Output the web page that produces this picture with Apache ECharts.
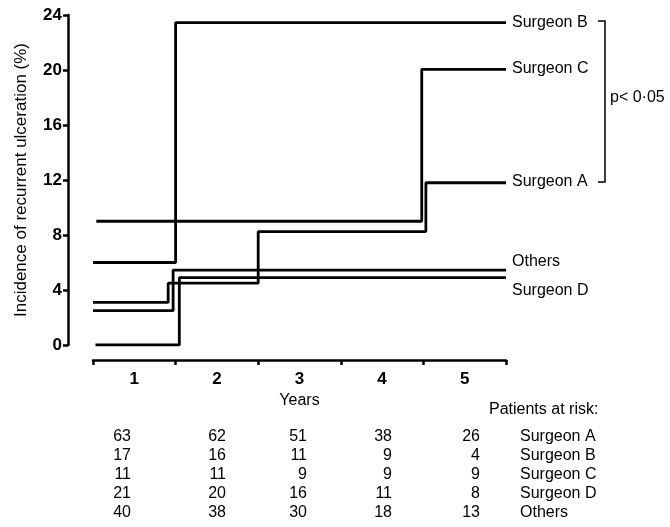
<!DOCTYPE html>
<html><head><meta charset="utf-8">
<script src="https://cdn.jsdelivr.net/npm/echarts@6/dist/echarts.min.js"></script>
<style>html,body{margin:0;padding:0;background:#fff}#c{width:670px;height:527px}</style>
</head><body><div id="c"></div>
<script>
// ---- data ----
const yearLabels = ['1', '2', '3', '4', '5'];
const yTickValues = [0, 4, 8, 12, 16, 20, 24];
// Step curves: [year, incidence %] at start and at each step
const surgeonA = [[0, 3.1], [0.91, 4.5], [2.0, 8.25], [4.03, 11.8], [5, 11.8]];
const surgeonB = [[0, 6.0], [1.0, 23.45], [5, 23.45]];
const surgeonC = [[0.04, 9.0], [3.98, 20.05], [5, 20.05]];
const surgeonD = [[0.03, 0], [1.045, 4.9], [5, 4.9]];
const others   = [[0, 2.5], [0.97, 5.45], [5, 5.45]];
const seriesNames = ['Surgeon A', 'Surgeon B', 'Surgeon C', 'Surgeon D', 'Others'];
// Patients at risk per year
const riskA = [63, 62, 51, 38, 26];
const riskB = [17, 16, 11, 9, 4];
const riskC = [11, 11, 9, 9, 9];
const riskD = [21, 20, 16, 11, 8];
const riskOthers = [40, 38, 30, 18, 13];
const pText = 'p< 0·05';

// ---- chart ----
const FONT = "'Liberation Sans', Arial, Helvetica, sans-serif";
const chart = echarts.init(document.getElementById('c'), null, {renderer: 'canvas'});
const curves = [surgeonA, surgeonB, surgeonC, surgeonD, others];
const labelOffsets = [[0, -1], [0, 0], [0, -1], [0, 13], [0, -8]];

const series = curves.map((d, i) => ({
  name: seriesNames[i],
  type: 'line',
  xAxisIndex: 0,
  step: 'end',
  data: d,
  symbol: 'none',
  lineStyle: {color: '#000', width: 2.8},
  endLabel: {
    show: true,
    formatter: '{a}',
    distance: 6,
    offset: labelOffsets[i],
    color: '#000',
    fontSize: 16,
    fontFamily: FONT
  },
  animation: false
}));

const riskRows = [riskA, riskB, riskC, riskD, riskOthers];
const colRight = [131, 226, 307, 392, 480];
const rowY = [437, 456, 475, 494, 513];
const graphics = [];
riskRows.forEach((row, r) => {
  row.forEach((v, c) => {
    graphics.push({type: 'text', x: colRight[c], y: rowY[r],
      style: {text: String(v), font: '16px ' + FONT, fill: '#000',
        align: 'right', verticalAlign: 'middle', textAlign: 'right', textVerticalAlign: 'middle'}});
  });
  graphics.push({type: 'text', x: 520, y: rowY[r],
    style: {text: seriesNames[r], font: '16px ' + FONT, fill: '#000',
      align: 'left', verticalAlign: 'middle', textAlign: 'left', textVerticalAlign: 'middle'}});
});
graphics.push({type: 'text', x: 489, y: 410,
  style: {text: 'Patients at risk:', font: '16px ' + FONT, fill: '#000',
    align: 'left', verticalAlign: 'middle', textAlign: 'left', textVerticalAlign: 'middle'}});
// bracket
graphics.push({type: 'polyline', shape: {points: [[598, 21], [605, 21], [605, 182], [598, 182]]},
  style: {stroke: '#000', lineWidth: 1.5, fill: null}});
graphics.push({type: 'text', x: 610, y: 98,
  style: {text: pText, font: '16px ' + FONT, fill: '#000',
    align: 'left', verticalAlign: 'middle', textAlign: 'left', textVerticalAlign: 'middle'}});

chart.setOption({
  animation: false,
  backgroundColor: '#fff',
  grid: {left: 93, right: 164, top: 15, bottom: 182, containLabel: false},
  xAxis: [
    {type: 'value', min: 0, max: 5, show: false, gridIndex: 0},
    {type: 'category', data: yearLabels, boundaryGap: true, position: 'bottom', offset: 15, gridIndex: 0,
     axisLine: {show: true, onZero: false, lineStyle: {color: '#000', width: 2.5}},
     axisTick: {show: true, inside: false, length: 5, lineStyle: {color: '#000', width: 2.5}},
     axisLabel: {color: '#000', fontSize: 17, fontWeight: 'bold', fontFamily: FONT, margin: 11},
     name: 'Years', nameLocation: 'middle', nameGap: 30,
     nameTextStyle: {color: '#000', fontSize: 16, fontFamily: FONT},
     splitLine: {show: false}}
  ],
  yAxis: {
    type: 'value', min: yTickValues[0], max: yTickValues[yTickValues.length - 1], interval: 4, offset: 25,
    axisLine: {show: true, onZero: false, lineStyle: {color: '#000', width: 2.5}},
    axisTick: {show: true, inside: false, length: 5, lineStyle: {color: '#000', width: 2.5}},
    axisLabel: {color: '#000', fontSize: 17, fontWeight: 'bold', fontFamily: FONT, margin: 6},
    splitLine: {show: false},
    name: 'Incidence of recurrent ulceration (%)', nameLocation: 'middle', nameRotate: 90, nameGap: 38,
    nameTextStyle: {color: '#000', fontSize: 17, fontFamily: FONT}
  },
  series: series,
  graphic: graphics
});
</script></body></html>
